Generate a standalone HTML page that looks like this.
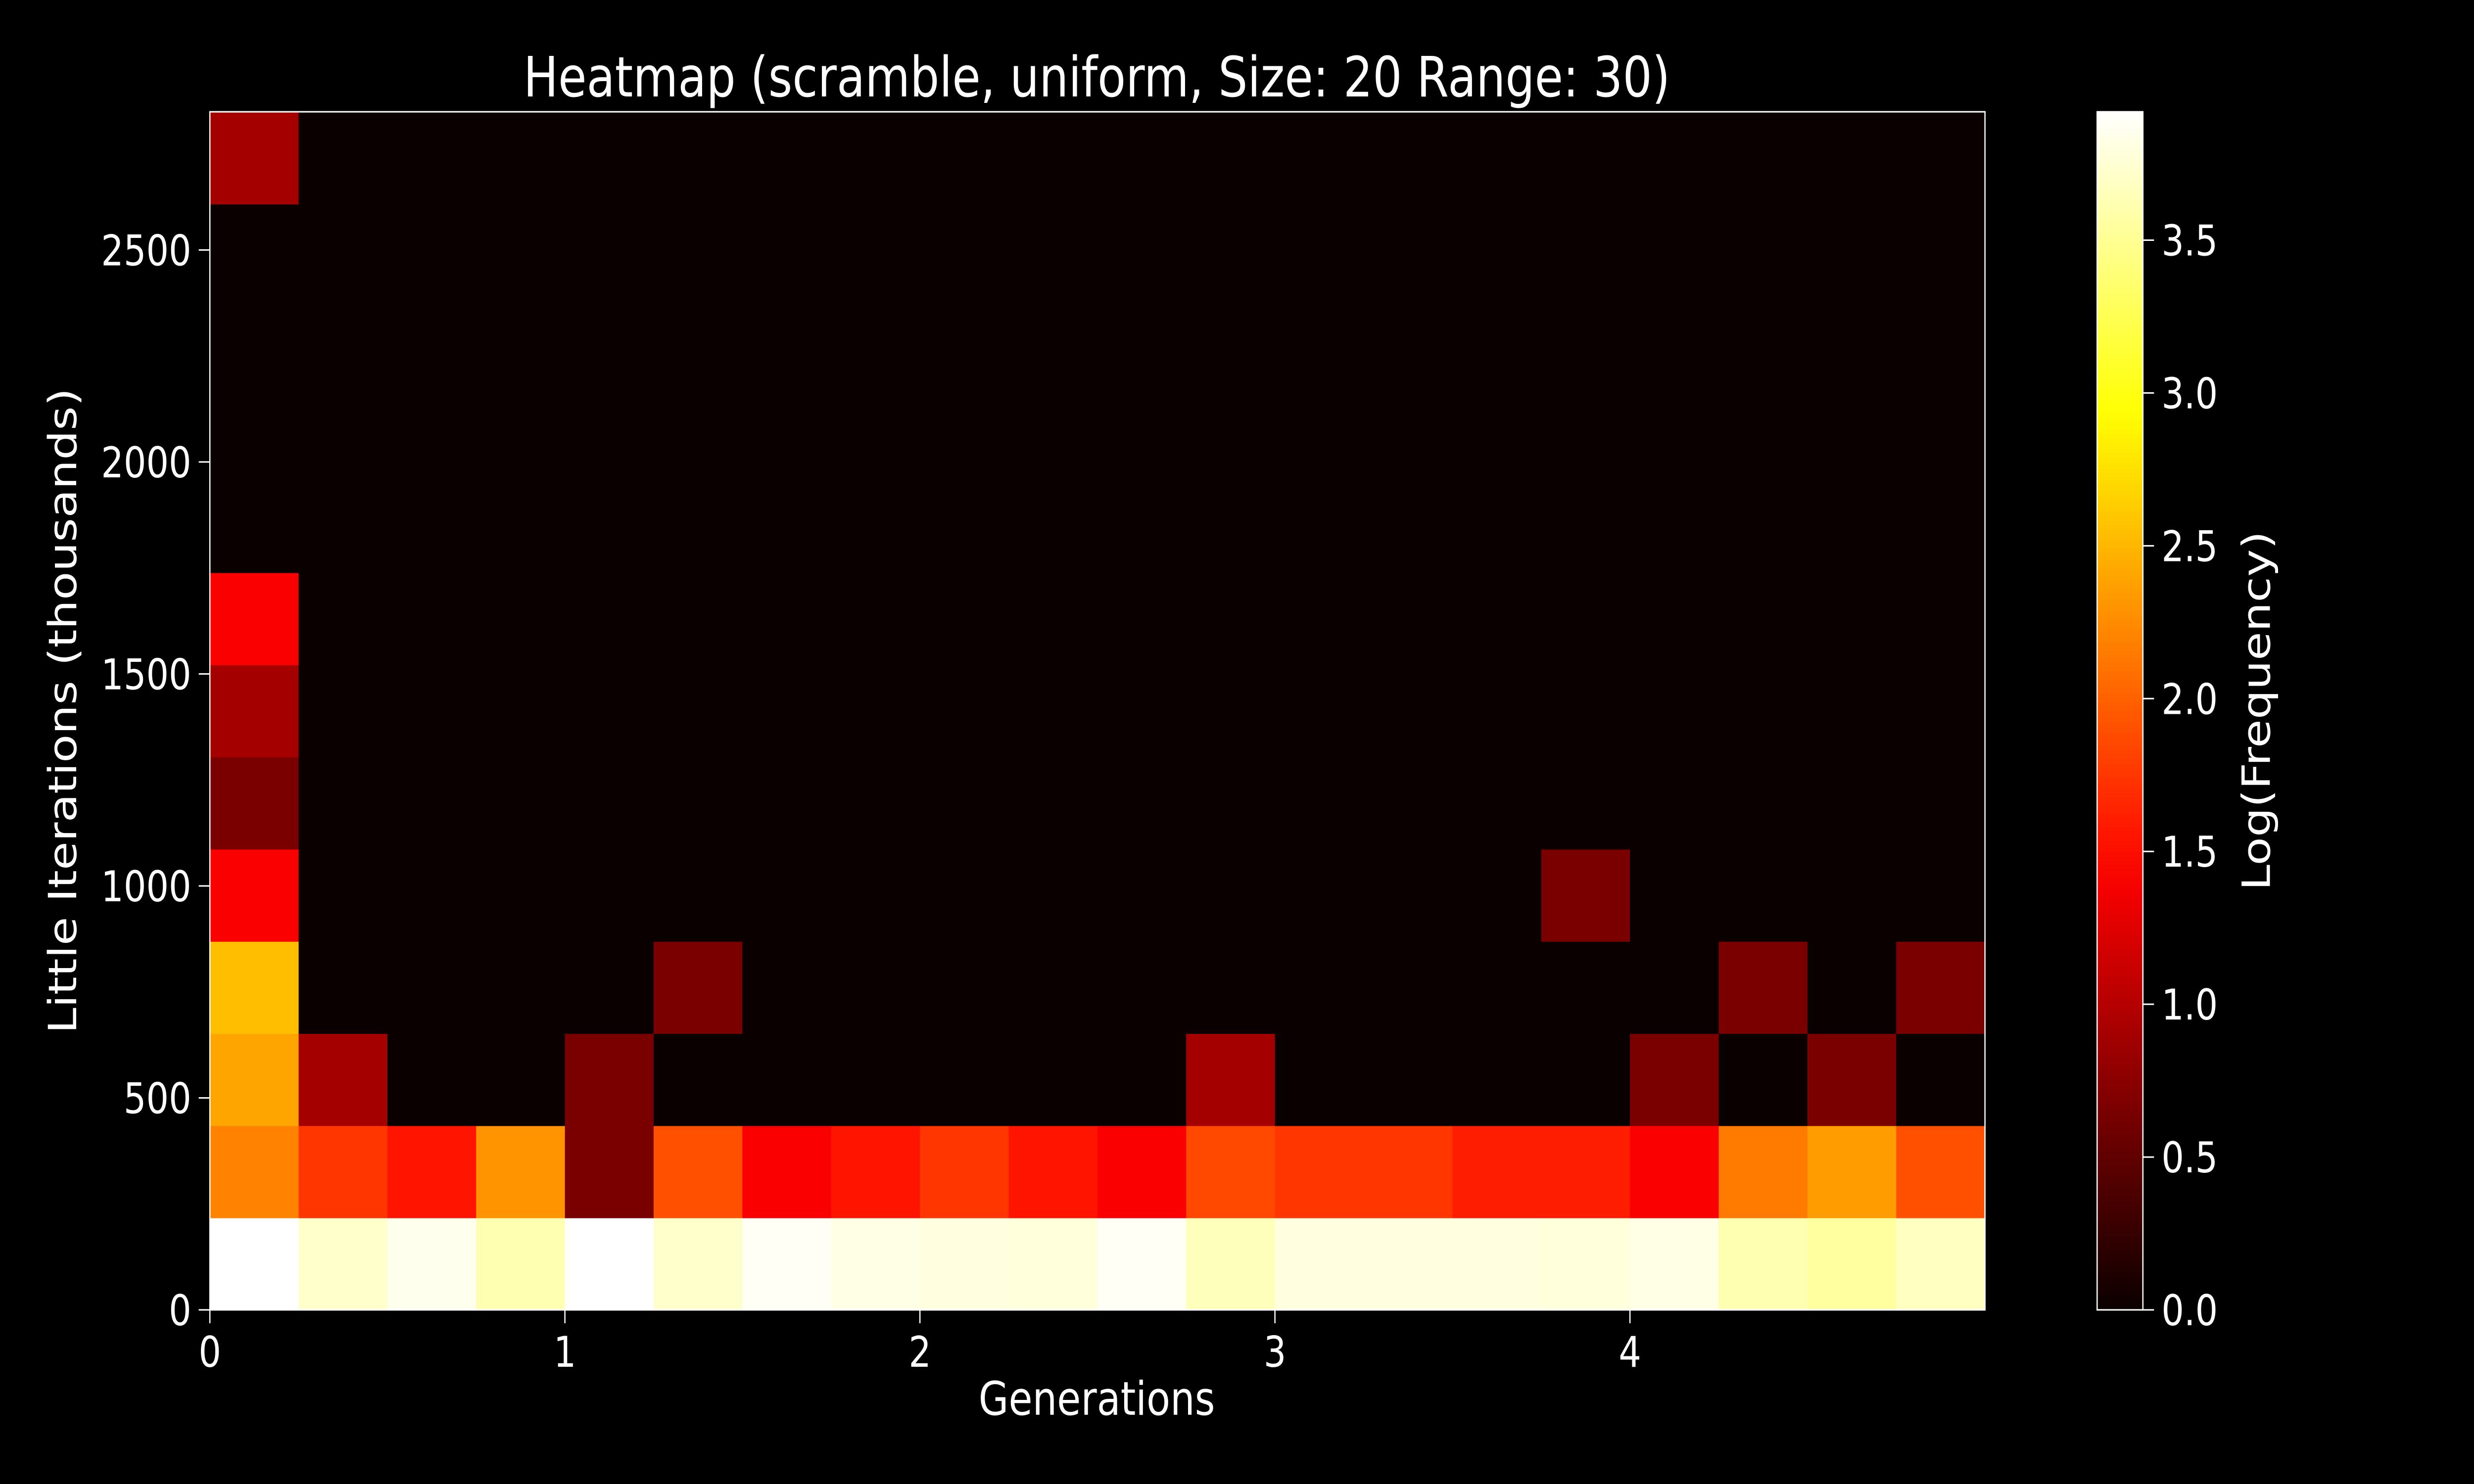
<!DOCTYPE html>
<html><head><meta charset="utf-8"><style>
html,body{margin:0;padding:0;background:#000;width:100%;height:100%;overflow:hidden;}
svg{display:block;position:fixed;left:0;top:0;width:100vw;height:100vh;font-family:"DejaVu Sans","Liberation Sans",sans-serif;}
</style></head><body>
<svg id="chart" viewBox="0 0 6000 3000" preserveAspectRatio="none" xmlns="http://www.w3.org/2000/svg">
<rect width="6000" height="3000" fill="#000"/>
<text x="2660" y="195" fill="#fff" font-size="112" text-anchor="middle">Heatmap (scramble, uniform, Size: 20 Range: 30)</text>
<text x="2660" y="2860" fill="#fff" font-size="94" text-anchor="middle">Generations</text>
<text transform="translate(185,1437) rotate(-90)" fill="#fff" font-size="94" text-anchor="middle">Little Iterations (thousands)</text>
<text transform="translate(5505,1437) rotate(-90)" fill="#fff" font-size="94" text-anchor="middle">Log(Frequency)</text>
<g id="cells"></g>
<g id="axes"></g>
<g id="cbar"></g>
</svg>
<script>
// data
const xTicks = [0, 1, 2, 3, 4];
const yTicks = [0, 500, 1000, 1500, 2000, 2500];
const cbTicks = [0.0, 0.5, 1.0, 1.5, 2.0, 2.5, 3.0, 3.5];
const nCols = 20;
const nRows = 13;
const vmax = 3.92;
// rows from bottom (row 0) to top (row 12); each row 20 values
const row0 = [3.92,3.72,3.85,3.62,3.92,3.72,3.88,3.82,3.8,3.78,3.88,3.66,3.8,3.8,3.8,3.78,3.82,3.62,3.55,3.68];
const row1 = [2.2,1.75,1.55,2.3,0.65,1.9,1.4,1.55,1.75,1.55,1.4,1.85,1.75,1.75,1.6,1.6,1.4,2.15,2.35,1.9];
const row2 = [2.4,0.9,0,0,0.65,0,0,0,0,0,0,0.9,0,0,0,0,0.65,0,0.65,0];
const row3 = [2.55,0,0,0,0,0.65,0,0,0,0,0,0,0,0,0,0,0,0.65,0,0.65];
const row4 = [1.4,0,0,0,0,0,0,0,0,0,0,0,0,0,0,0.65,0,0,0,0];
const row5 = [0.65,0,0,0,0,0,0,0,0,0,0,0,0,0,0,0,0,0,0,0];
const row6 = [0.9,0,0,0,0,0,0,0,0,0,0,0,0,0,0,0,0,0,0,0];
const row7 = [1.4,0,0,0,0,0,0,0,0,0,0,0,0,0,0,0,0,0,0,0];
const row8 = [0,0,0,0,0,0,0,0,0,0,0,0,0,0,0,0,0,0,0,0];
const row9 = [0,0,0,0,0,0,0,0,0,0,0,0,0,0,0,0,0,0,0,0];
const row10 = [0,0,0,0,0,0,0,0,0,0,0,0,0,0,0,0,0,0,0,0];
const row11 = [0,0,0,0,0,0,0,0,0,0,0,0,0,0,0,0,0,0,0,0];
const row12 = [0.9,0,0,0,0,0,0,0,0,0,0,0,0,0,0,0,0,0,0,0];
const rows = [row0,row1,row2,row3,row4,row5,row6,row7,row8,row9,row10,row11,row12];

const NS = "http://www.w3.org/2000/svg";
const L = 509, R = 4814, T = 226, B = 2648;
const xMax = 5, yMax = 2826;
const xs = v => L + v / xMax * (R - L);
const ys = v => B - v / yMax * (B - T);
const cw = (R - L) / nCols, rh = (B - T) / nRows;
function hot(v) {
  let x = Math.max(0, Math.min(1, v / vmax));
  const r = Math.min(1, 0.0416 + x / 0.365 * 0.9584);
  const g = Math.max(0, Math.min(1, (x - 0.365) / 0.381));
  const b = Math.max(0, Math.min(1, (x - 0.746) / 0.254));
  const h = c => Math.round(c * 255);
  return `rgb(${h(r)},${h(g)},${h(b)})`;
}
function mk(tag, attrs, parent) {
  const e = document.createElementNS(NS, tag);
  for (const k in attrs) e.setAttribute(k, attrs[k]);
  parent.appendChild(e);
  return e;
}
const cells = document.getElementById('cells');
rows.forEach((row, ri) => row.forEach((v, ci) => {
  const r = mk('rect', {x: L + ci * cw, y: B - (ri + 1) * rh, width: cw + 1, height: rh + 1, fill: hot(v)}, cells);
  
  
}));
const axes = document.getElementById('axes');
const frame = mk('rect', {x: L, y: T, width: R - L, height: B - T, fill: 'none', stroke: '#fff', 'stroke-width': 3}, axes);


xTicks.forEach(t => {
  const x = xs(t);
  const l = mk('line', {x1: x, x2: x, y1: B, y2: B + 27, stroke: '#fff', 'stroke-width': 3}, axes);
  
  
  const tx = mk('text', {x: x, y: B + 115, fill: '#fff', 'font-size': 86, 'text-anchor': 'middle'}, axes);
  tx.textContent = t;
  
  
});
yTicks.forEach(t => {
  const y = ys(t);
  const l = mk('line', {x1: L - 27, x2: L, y1: y, y2: y, stroke: '#fff', 'stroke-width': 3}, axes);
  
  
  const tx = mk('text', {x: L - 45, y: y + 31, fill: '#fff', 'font-size': 86, 'text-anchor': 'end'}, axes);
  tx.textContent = t;
  
  
});
// colorbar
const cb = document.getElementById('cbar');
const CL = 5086, CR = 5197;
const cy = v => B - v / vmax * (B - T);
const defs = mk('defs', {}, cb);
const grad = mk('linearGradient', {id: 'g', x1: 0, y1: 1, x2: 0, y2: 0}, defs);
for (let i = 0; i <= 20; i++) {
  mk('stop', {offset: i / 20, 'stop-color': hot(i / 20 * vmax)}, grad);
}
const cbr = mk('rect', {x: CL, y: T, width: CR - CL, height: B - T, fill: 'url(#g)', stroke: '#fff', 'stroke-width': 3}, cb);


cbTicks.forEach(t => {
  const y = cy(t);
  const l = mk('line', {x1: CR, x2: CR + 27, y1: y, y2: y, stroke: '#fff', 'stroke-width': 3}, cb);
  
  
  const tx = mk('text', {x: CR + 45, y: y + 31, fill: '#fff', 'font-size': 86}, cb);
  tx.textContent = t.toFixed(1);
  
  
});
</script>
</body></html>
